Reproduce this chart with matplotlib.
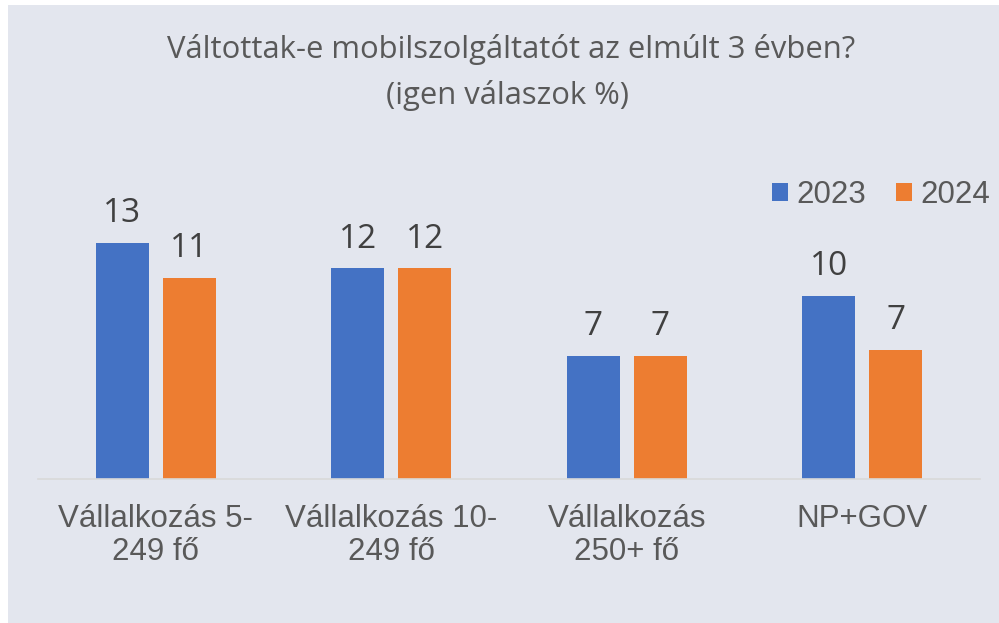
import matplotlib
matplotlib.use('Agg')
import matplotlib.pyplot as plt
import numpy as np
from matplotlib.patches import Rectangle

# adatok (a kép alapján becsülve)
categories = ['Vállalkozás 5-\n249 fő', 'Vállalkozás 10-\n249 fő', 'Vállalkozás\n250+ fő', 'NP+GOV']
years = ['2023', '2024']
values_2023 = [13.0, 11.6, 6.8, 10.1]
values_2024 = [11.1, 11.6, 6.8, 7.1]

title_1 = 'Váltottak-e mobilszolgáltatót az elmúlt 3 évben?'
title_2 = '(igen válaszok %)'

blue = '#4472C4'
orange = '#ED7D31'
panel = '#E3E6EE'
W, H = 999, 623


def px_x(x):
    return x / W


def px_y(y):
    # y measured from the top of the image
    return 1 - y / H


fig = plt.figure(figsize=(W / 100, H / 100), dpi=100, facecolor='white')
fig.patches.append(Rectangle((px_x(8), 0), 1, px_y(5), transform=fig.transFigure,
                             facecolor=panel, edgecolor='none', zorder=-10))

ax_left, ax_right, ax_bottom, ax_top = 38, 980, 479.3, 170
ax = fig.add_axes([px_x(ax_left), px_y(ax_bottom), px_x(ax_right - ax_left),
                   (ax_bottom - ax_top) / H])
ax.set_facecolor('none')

x = np.arange(len(categories))
width = 0.225
offset = 0.1423
b1 = ax.bar(x - offset, values_2023, width, color=blue, label=years[0])
b2 = ax.bar(x + offset, values_2024, width, color=orange, label=years[1])

for bars, vals in [(b1, values_2023), (b2, values_2024)]:
    for rect, v in zip(bars, vals):
        ax.annotate(f'{v:.0f}', (rect.get_x() + rect.get_width() / 2, v),
                    xytext=(0, 15), textcoords='offset points', ha='center',
                    va='baseline', fontsize=24, family='Open Sans', color='#404040')

ax.set_xlim(-0.5, len(categories) - 0.5)
ax.set_ylim(0, (ax_bottom - ax_top) / 18.18)
ax.set_yticks([])
ax.set_xticks(x)
ax.set_xticklabels(categories, fontsize=22.5, family='Liberation Sans', color='#595959',
                   linespacing=1.15)
ax.tick_params(axis='x', length=0, pad=17.5)
for s in ['top', 'right', 'left']:
    ax.spines[s].set_visible(False)
ax.spines['bottom'].set_color('#D9D9D9')
ax.spines['bottom'].set_linewidth(1.2)

fig.text(px_x(511), px_y(58), title_1, ha='center', va='baseline', fontsize=22.3,
         family='Open Sans', color='#595959')
fig.text(px_x(508), px_y(104), title_2, ha='center', va='baseline', fontsize=22.3,
         family='Open Sans', color='#595959')

leg = ax.legend(loc='center right', bbox_to_anchor=(px_x(990), px_y(195)),
                bbox_transform=fig.transFigure, ncol=2, frameon=False,
                prop={'family': 'Liberation Sans', 'size': 22.5},
                handlelength=0.51, handleheight=0.51, handletextpad=0.26,
                columnspacing=0.96, borderpad=0, borderaxespad=0)
for t in leg.get_texts():
    t.set_color('#595959')

fig.savefig('out.png', dpi=100, facecolor='white')
